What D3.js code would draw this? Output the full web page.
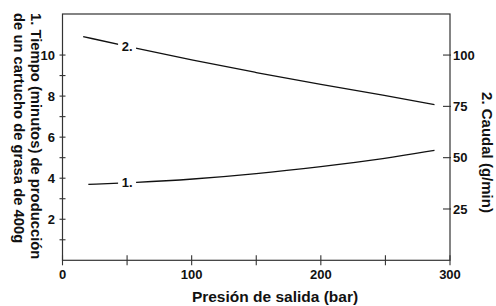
<!DOCTYPE html>
<html>
<head>
<meta charset="utf-8">
<script src="https://cdn.jsdelivr.net/npm/d3@7"></script>
<style>
  body { margin: 0; background: #fff; }
  svg text { font-family: "Liberation Sans", Arial, sans-serif; font-weight: bold; fill: #111; }
</style>
</head>
<body>
<svg id="canvas" width="496" height="306"></svg>
<script>
// data
var pressure1 = [20, 56, 100, 150, 200, 250, 288];          // bar
var time1     = [3.70, 3.79, 3.94, 4.21, 4.56, 4.95, 5.36]; // min
var pressure2 = [16, 56, 100, 150, 200, 250, 288];          // bar
var flow2     = [109, 103.4, 97.6, 91.4, 85.7, 80.3, 75.8]; // g/min
var seriesLabels = ['1.', '2.'];
var labelAt = [50, 50];                                     // bar, where the label sits on the curve

var xTicks = [0, 100, 200, 300], xMinor = [50, 150, 250];
var yLeftTicks = [2, 4, 6, 8, 10], yLeftMinor = [1, 3, 5, 7, 9];
var yRightTicks = [25, 50, 75, 100];

var svg = d3.select('#canvas');
var L = 62.5, R = 450, T = 14, B = 260.3;

var x = d3.scaleLinear().domain([0, 300]).range([L, R]);
var yL = d3.scaleLinear().domain([0, 12]).range([B, T]);
var yR = d3.scaleLinear().domain([0, 120]).range([B, T]);

// ************************************************************************************** //
// Frame + ticks

var axisColor = '#333';
svg.append('rect')
  .attr('x', L).attr('y', T).attr('width', R - L).attr('height', B - T)
  .style('fill', 'none').style('stroke', axisColor).style('stroke-width', 1.2);

// bottom ticks (cross the axis)
svg.selectAll('.xtick').data(xTicks.concat(xMinor)).enter().append('line')
  .attr('x1', d => x(d)).attr('x2', d => x(d)).attr('y1', B - 5).attr('y2', B + 5)
  .style('stroke', axisColor).style('stroke-width', 1.1);
svg.selectAll('.xlab').data(xTicks).enter().append('text')
  .attr('x', d => x(d)).attr('y', 279).attr('text-anchor', 'middle')
  .style('font-size', '13px').text(d => d);

// left ticks
svg.selectAll('.yltick').data(yLeftTicks.concat(yLeftMinor)).enter().append('line')
  .attr('x1', L - 3).attr('x2', L + 3).attr('y1', d => yL(d)).attr('y2', d => yL(d))
  .style('stroke', axisColor).style('stroke-width', 1.1);
svg.selectAll('.yllab').data(yLeftTicks).enter().append('text')
  .attr('x', 55).attr('y', d => yL(d)).attr('dy', '0.36em').attr('text-anchor', 'end')
  .style('font-size', '13px').text(d => d);

// right ticks
svg.selectAll('.yrtick').data(yRightTicks).enter().append('line')
  .attr('x1', R - 7).attr('x2', R + 1).attr('y1', d => yR(d)).attr('y2', d => yR(d))
  .style('stroke', axisColor).style('stroke-width', 1.1);
svg.selectAll('.yrlab').data(yRightTicks).enter().append('text')
  .attr('x', 453).attr('y', d => yR(d)).attr('dy', '0.36em').attr('text-anchor', 'start')
  .style('font-size', '13px').text(d => d);

// ************************************************************************************** //
// Curves

var line1 = d3.line().x((d, i) => x(pressure1[i])).y(d => yL(d)).curve(d3.curveBasis);
var line2 = d3.line().x((d, i) => x(pressure2[i])).y(d => yR(d)).curve(d3.curveBasis);

svg.append('path').attr('d', line1(time1))
  .style('fill', 'none').style('stroke', '#111').style('stroke-width', 1.3);
svg.append('path').attr('d', line2(flow2))
  .style('fill', 'none').style('stroke', '#111').style('stroke-width', 1.3);

// inline labels, breaking the curve
function curveY(xs, ys, scale, v){
  var i = d3.bisectRight(xs, v) - 1;
  var t = (v - xs[i]) / (xs[i+1] - xs[i]);
  return scale(ys[i] + t * (ys[i+1] - ys[i]));
}
var labPos = [
  { x: x(labelAt[0]), y: curveY(pressure1, time1, yL, labelAt[0]) },
  { x: x(labelAt[1]), y: curveY(pressure2, flow2, yR, labelAt[1]) }
];
labPos.forEach(function(p, i){
  svg.append('rect').attr('x', p.x - 9).attr('y', p.y - 6).attr('width', 18).attr('height', 12)
    .style('fill', '#fff');
  svg.append('text').attr('x', p.x).attr('y', p.y).attr('dy', '0.36em').attr('text-anchor', 'middle')
    .style('font-size', '13px').text(seriesLabels[i]);
});

// ************************************************************************************** //
// Titles

svg.append('text').attr('x', 275).attr('y', 302).attr('text-anchor', 'middle')
  .style('font-size', '15.5px').text('Presión de salida (bar)');

var leftTitle = svg.append('text').attr('transform', 'translate(30.5,13) rotate(90)')
  .style('font-size', '14.8px');
leftTitle.append('tspan').attr('x', 0).attr('y', 0).text('1. Tiempo (minutos) de producción');
leftTitle.append('tspan').attr('x', 0).attr('y', 17).text('de un cartucho de grasa de 400g');

svg.append('text').attr('transform', 'translate(481.5,152.5) rotate(90)').attr('text-anchor', 'middle')
  .style('font-size', '15px').text('2. Caudal (g/min)');
</script>
</body>
</html>
